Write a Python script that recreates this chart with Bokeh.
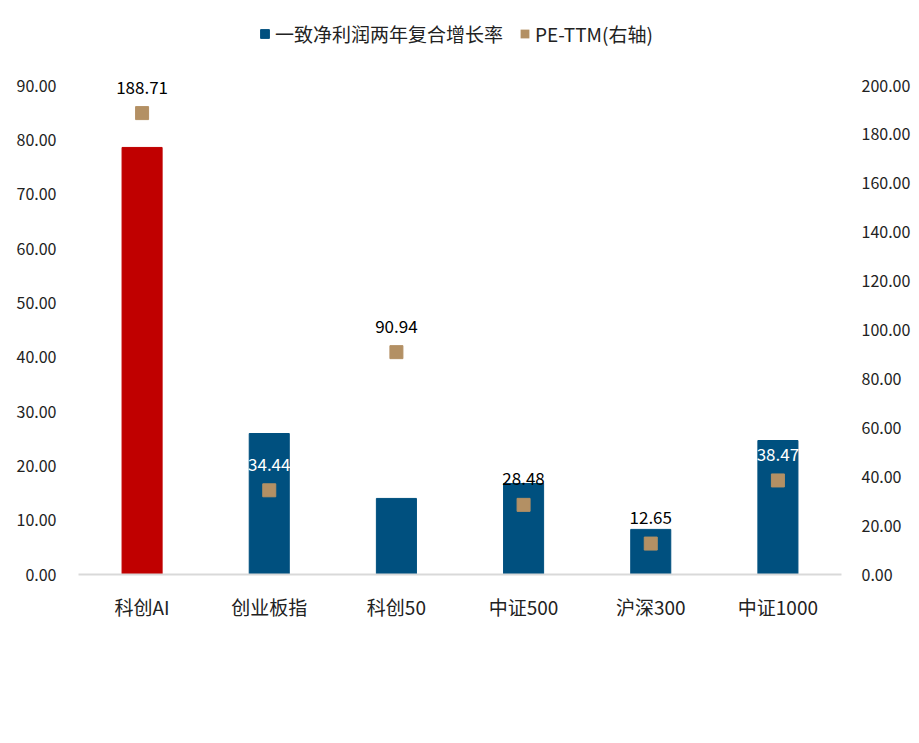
from bokeh.plotting import figure
from bokeh.models import (Range1d, LinearAxis, FixedTicker, NumeralTickFormatter,
                          ColumnDataSource, LabelSet, Legend, LegendItem, FactorRange)
from bokeh.core.properties import value
from bokeh.embed import file_html
from bokeh.resources import INLINE

categories = ["科创AI", "创业板指", "科创50", "中证500", "沪深300", "中证1000"]
growth = [78.6, 25.95, 14.0, 16.75, 8.3, 24.66]
pe_ttm = [188.71, 34.44, 90.94, 28.48, 12.65, 38.47]
left_ticks = [0, 10, 20, 30, 40, 50, 60, 70, 80, 90]
right_ticks = [0, 20, 40, 60, 80, 100, 120, 140, 160, 180, 200]
series_names = ["一致净利润两年复合增长率", "PE-TTM(右轴)"]

BLUE = "#00507F"
RED = "#C00000"
TAN = "#B39064"
FONT = "Noto Sans CJK SC"

# plotting area: the axis span (0..90 / 0..200) occupies PLOT_H px; the frame is
# extended above it to host the legend
PLOT_H = 554 - 65
FRAME_H = 554
LEFT_MAX = left_ticks[-1]
RIGHT_MAX = right_ticks[-1]

bar_colors = [RED] + [BLUE] * (len(categories) - 1)
label_text = ["%.2f" % v for v in pe_ttm]
label_colors = ["white" if g > v / RIGHT_MAX * LEFT_MAX + 5 else "black"
                for g, v in zip(growth, pe_ttm)]

src = ColumnDataSource(dict(cat=categories, growth=growth, pe=pe_ttm, color=bar_colors,
                            lbl=label_text, lcol=label_colors))

p = figure(frame_width=763, frame_height=FRAME_H, x_range=FactorRange(*categories),
           y_range=Range1d(0, LEFT_MAX * FRAME_H / PLOT_H),
           output_backend="svg", toolbar_location=None,
           min_border_left=78, min_border_right=70, min_border_top=20, min_border_bottom=160)
p.extra_y_ranges = {"pe": Range1d(0, RIGHT_MAX * FRAME_H / PLOT_H)}
p.x_range.range_padding = 0
p.outline_line_color = None
p.xgrid.grid_line_color = None
p.ygrid.grid_line_color = None
p.background_fill_color = "white"

bars = p.vbar(x="cat", top="growth", width=0.315, color="color", source=src)
pts = p.scatter(x="cat", y="pe", y_range_name="pe", marker="square", size=13,
                color=TAN, source=src)
# zero-width proxy so the legend shows a full-size square for the PE series
pe_proxy = p.vbar(x="cat", top=0, width=0, fill_color=TAN, line_color=TAN,
                  line_alpha=0, source=src)

labels = LabelSet(x="cat", y="pe", y_range_name="pe", text="lbl", source=src,
                  y_offset=26, text_align="center", text_baseline="middle",
                  text_color="lcol", text_font_size="17px", text_font=value(FONT))
p.add_layout(labels)

# left axis
ax = p.yaxis[0]
ax.ticker = FixedTicker(ticks=left_ticks)
ax.formatter = NumeralTickFormatter(format="0.00")
ax.axis_line_color = None
ax.major_tick_line_color = None
ax.minor_tick_line_color = None
ax.major_label_text_font = FONT
ax.major_label_text_font_size = "16px"
ax.major_label_text_color = "#222222"
ax.major_label_standoff = 16

# right axis
rax = LinearAxis(y_range_name="pe", ticker=FixedTicker(ticks=right_ticks),
                 formatter=NumeralTickFormatter(format="0.00"))
rax.axis_line_color = None
rax.major_tick_line_color = None
rax.minor_tick_line_color = None
rax.major_label_text_font = FONT
rax.major_label_text_font_size = "16px"
rax.major_label_text_color = "#222222"
rax.major_label_standoff = 14
p.add_layout(rax, "right")

# bottom axis
xa = p.xaxis[0]
xa.axis_line_color = "#D9D9D9"
xa.axis_line_width = 2
xa.major_tick_line_color = None
xa.minor_tick_line_color = None
xa.major_label_text_font = FONT
xa.major_label_text_font_size = "19px"
xa.major_label_text_color = "#222222"
xa.major_label_standoff = 12

legend = Legend(items=[LegendItem(label=series_names[0], renderers=[bars], index=1),
                       LegendItem(label=series_names[1], renderers=[pe_proxy], index=0)],
                orientation="horizontal", location=(181, 527),
                label_text_font=FONT, label_text_font_size="19px",
                label_text_color="#222222", glyph_width=11, glyph_height=11,
                spacing=16, border_line_color=None, background_fill_alpha=0,
                margin=0, padding=0, label_standoff=5)
p.add_layout(legend, "center")

open("out.html", "w").write(file_html(p, INLINE))
